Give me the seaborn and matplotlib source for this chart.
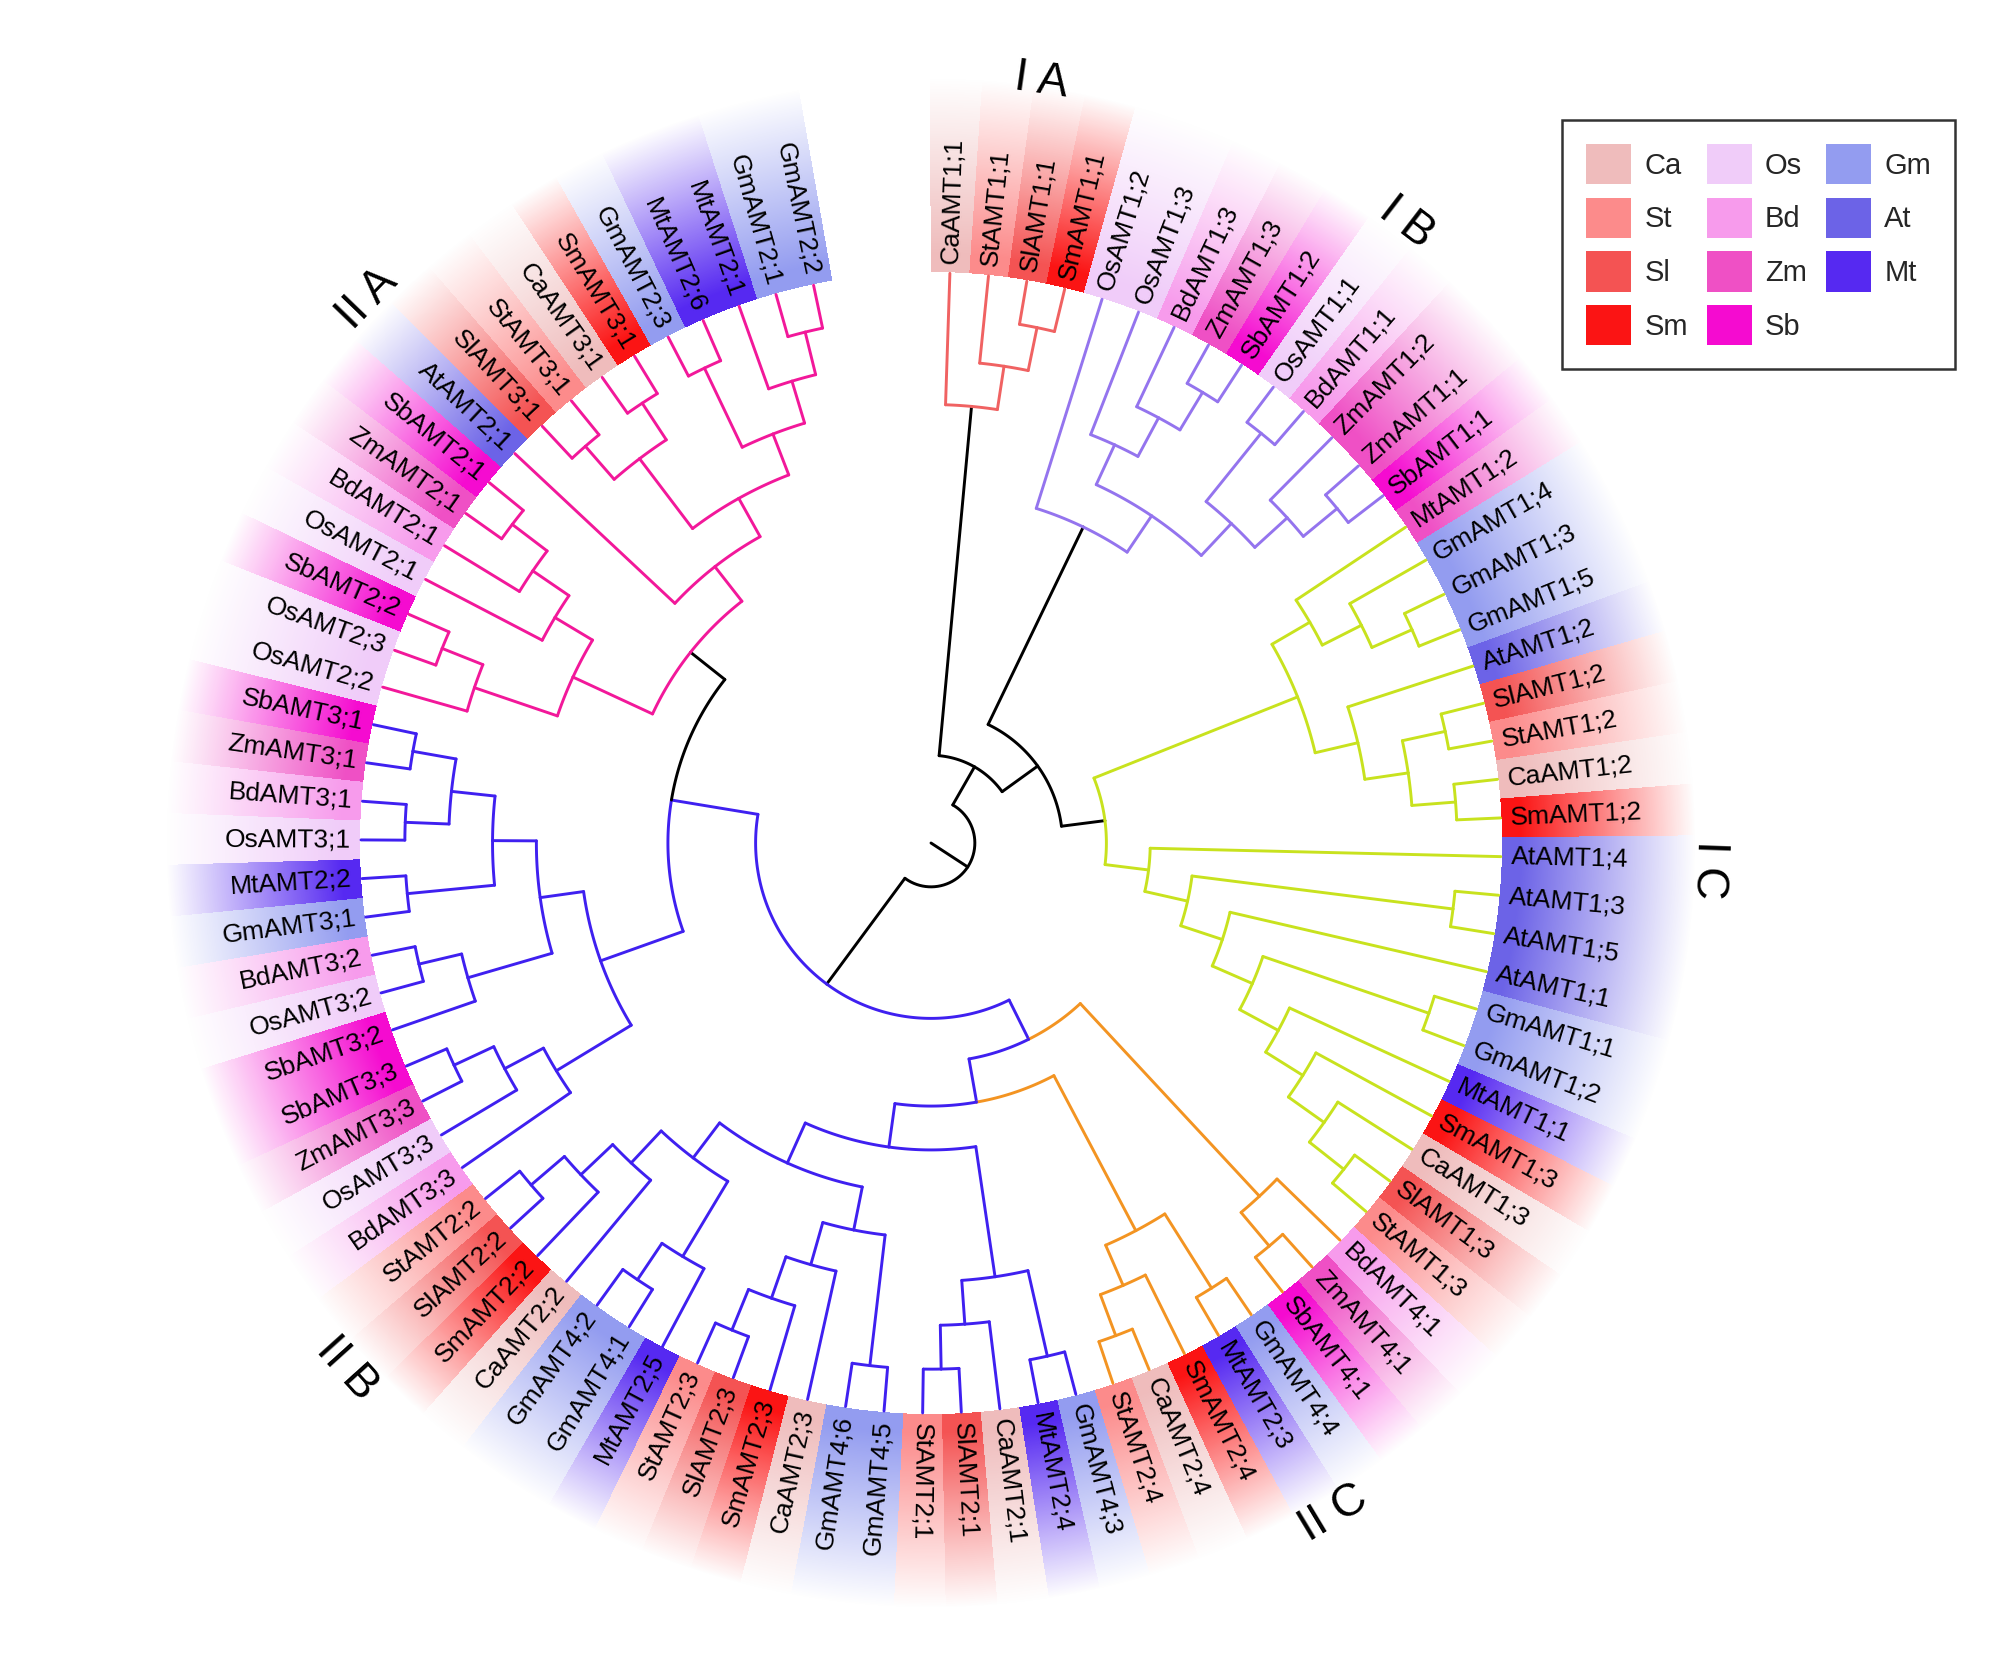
import numpy as np
import seaborn as sns
import matplotlib.pyplot as plt
from matplotlib.patches import Patch
from matplotlib.colors import to_rgb

# ------------------------------------------------------------------ data
species = ['Ca', 'St', 'Sl', 'Sm', 'Os', 'Bd', 'Zm', 'Sb', 'Gm', 'At', 'Mt']
species_colors = ['#EFBCBC', '#FC8B8B', '#F45353', '#FB1414', '#F0CCF9', '#F79BEC',
                  '#EF50C5', '#F50BD0', '#939CF0', '#6C63E7', '#5629F1']

# subtrees, leaves listed clockwise from the top (names keep their ';')
tree_IA = "(CaAMT1;1,(StAMT1;1,(SlAMT1;1,SmAMT1;1)))IA"
tree_IB = ("(OsAMT1;2,((OsAMT1;3,(BdAMT1;3,(ZmAMT1;3,SbAMT1;2))),"
           "((OsAMT1;1,BdAMT1;1),(ZmAMT1;2,(ZmAMT1;1,SbAMT1;1)))))IB")
tree_IC = ("(((MtAMT1;2,(GmAMT1;4,(GmAMT1;3,GmAMT1;5))),(AtAMT1;2,((SlAMT1;2,StAMT1;2),(CaAMT1;2,SmAMT1;2)))),"
           "(AtAMT1;4,((AtAMT1;3,AtAMT1;5),(AtAMT1;1,((GmAMT1;1,GmAMT1;2),"
           "(MtAMT1;1,(SmAMT1;3,(CaAMT1;3,(SlAMT1;3,StAMT1;3)))))))))IC")
tree_IIC2 = "(BdAMT4;1,(ZmAMT4;1,SbAMT4;1))IIC2"
tree_IIC1 = "((GmAMT4;4,MtAMT2;3),(SmAMT2;4,(CaAMT2;4,StAMT2;4)))IIC1"
tree_IIB2 = ("(((GmAMT4;3,MtAMT2;4),(CaAMT2;1,(SlAMT2;1,StAMT2;1))),"
             "(((GmAMT4;5,GmAMT4;6),(CaAMT2;3,(SmAMT2;3,(SlAMT2;3,StAMT2;3)))),"
             "((MtAMT2;5,(GmAMT4;1,GmAMT4;2)),(CaAMT2;2,(SmAMT2;2,(SlAMT2;2,StAMT2;2))))))")
tree_IIB1 = ("((BdAMT3;3,(OsAMT3;3,(ZmAMT3;3,SbAMT3;3))),((SbAMT3;2,(OsAMT3;2,BdAMT3;2)),"
             "((GmAMT3;1,MtAMT2;2),((OsAMT3;1,BdAMT3;1),(ZmAMT3;1,SbAMT3;1)))))")
tree_IIA = ("(((OsAMT2;2,(OsAMT2;3,SbAMT2;2)),(OsAMT2;1,(BdAMT2;1,(ZmAMT2;1,SbAMT2;1)))),"
            "(AtAMT2;1,(((SlAMT3;1,StAMT3;1),(CaAMT3;1,SmAMT3;1)),"
            "((GmAMT2;3,MtAMT2;6),(MtAMT2;1,(GmAMT2;1,GmAMT2;2))))))IIA")

group_I = "(" + tree_IA + ",(" + tree_IB + "," + tree_IC + "))"
group_II = "((" + tree_IIC2 + ",(" + tree_IIC1 + "," + tree_IIB2 + ")),(" + tree_IIB1 + "," + tree_IIA + "))II"
tree = "(" + group_I + "," + group_II + ")"

band_fix = {'MtAMT1;2': 'Zm'}          # band colour differs from the name in the figure
clade_names = ['I A', 'I B', 'I C', 'II C', 'II B', 'II A']

# ------------------------------------------------------------------ style
W, H = 2008, 1677
cx, cy = 931, 843            # tree centre (px)
R_LEAF = 570
STEP = R_LEAF / 13.0
TH0, DTH = 1.9, 3.89         # angle of first leaf, spacing (deg, clockwise from top)
LW = 2.1
clade_style = {'IA': (None, '#F06262'), 'IB': (None, '#9474EE'), 'IC': (None, '#C8E21E'),
               'II': (None, '#3F20F0'), 'IIA': ('black', '#F2189A'),
               'IIC1': ('#F39422', '#F39422'), 'IIC2': ('#F39422', '#F39422')}
label_pos = {'I A': (8.2, 770), 'I B': (37.5, 782), 'I C': (92, 778),
             'II C': (149, 782), 'II B': (228, 786), 'II A': (314, 784)}

sns.set_theme(style="white")
plt.rcParams['font.family'] = ['Liberation Sans', 'DejaVu Sans']


def parse(s):
    pos = 0

    def name():
        nonlocal pos
        st = pos
        while pos < len(s) and s[pos] not in ',()':
            pos += 1
        return s[st:pos]

    def node():
        nonlocal pos
        if s[pos] == '(':
            pos += 1
            kids = [node()]
            while s[pos] == ',':
                pos += 1
                kids.append(node())
            pos += 1
            return {'name': name(), 'kids': kids}
        return {'name': name(), 'kids': []}
    return node()


root = parse(tree)
leaves = []


def layout(n):
    if not n['kids']:
        n['idx'] = len(leaves)
        n['h'] = 0
        leaves.append(n['name'])
        return
    for k in n['kids']:
        layout(k)
    n['h'] = 1 + max(k['h'] for k in n['kids'])
    n['idx'] = (n['kids'][0]['idx'] + n['kids'][-1]['idx']) / 2


layout(root)


def theta(i):
    return TH0 + i * DTH


def xy(r, th):
    t = np.radians(th)
    return cx + r * np.sin(t), cy - r * np.cos(t)


fig = plt.figure(figsize=(W / 100, H / 100), dpi=100)
ax = fig.add_axes([0, 0, 1, 1])

# ---- coloured bands behind the labels (fade outwards)
cmap = dict(zip(species, species_colors))
band_rgb = np.array([to_rgb(cmap[band_fix.get(l, l[:2])]) for l in leaves])
r_in, r_solid, r_out = 571, 590, 765
yy, xx = np.mgrid[0:H, 0:W] + 0.5
rr = np.hypot(xx - cx, yy - cy)
tt = np.degrees(np.arctan2(xx - cx, -(yy - cy)))
tt = (tt + 5) % 360 - 5
k = np.rint((tt - TH0) / DTH).astype(int)
ok = (k >= 0) & (k < len(leaves)) & (rr >= r_in) & (rr <= r_out)
img = np.zeros((H, W, 4))
img[ok, :3] = band_rgb[k[ok]]
img[..., 3] = np.where(ok, np.clip((r_out - rr) / (r_out - r_solid), 0, 1), 0)
ax.imshow(img, extent=(0, W, H, 0), interpolation='bilinear', zorder=0)


# ---- branches
def arc(r, a, b, c):
    n = max(2, int(abs(b - a) * 2) + 2)
    t = np.linspace(a, b, n)
    x, y = xy(r, t)
    ax.plot(x, y, color=c, lw=LW, solid_capstyle='round', zorder=2)


def draw(n, r_par, inherited):
    sc, ic = clade_style.get(n['name'], (None, None)) if n['kids'] else (None, None)
    n['stem'] = sc or inherited
    inner = ic or inherited
    r = R_LEAF - STEP * n['h']
    th = theta(n['idx'])
    x0, y0 = xy(r_par, th)
    x1, y1 = xy(r, th)
    ax.plot([x0, x1], [y0, y1], color=n['stem'], lw=LW, solid_capstyle='round', zorder=2)
    if n['kids']:
        for kd in n['kids']:
            draw(kd, r, inner)
        arc(r, theta(n['kids'][0]['idx']), th, n['kids'][0]['stem'])
        arc(r, th, theta(n['kids'][-1]['idx']), n['kids'][-1]['stem'])


draw(root, 0, 'black')

# ---- leaf labels
for i, name in enumerate(leaves):
    th = theta(i)
    x, y = xy(580, th)
    if th > 181:
        ax.text(x, y, name, rotation=270 - th, ha='right', va='center',
                rotation_mode='anchor', fontsize=19, color='black', zorder=3)
    else:
        ax.text(x, y, name, rotation=90 - th, ha='left', va='center',
                rotation_mode='anchor', fontsize=19, color='black', zorder=3)

# ---- clade labels
for nm in clade_names:
    th, r = label_pos[nm]
    x, y = xy(r, th)
    rot = 180 - th if 100 < th < 260 else -th
    ax.text(x, y, nm, rotation=rot, ha='center', va='center',
            rotation_mode='anchor', fontsize=33, color='black')

ax.set_xlim(0, W)
ax.set_ylim(H, 0)
ax.set_aspect('equal')
ax.axis('off')

# ---- legend
handles = [Patch(facecolor=c, edgecolor='none', label=s) for s, c in zip(species, species_colors)]
leg = fig.legend(handles=handles, ncol=3, loc='upper left',
                 bbox_to_anchor=(1562 / W, 1 - 120 / H), borderaxespad=0,
                 frameon=True, fancybox=False,
                 edgecolor='black', fontsize=21, handlelength=1.55, handleheight=1.75,
                 labelspacing=0.46, columnspacing=0.65, handletextpad=0.45, borderpad=0.82)
leg.get_frame().set_linewidth(1.8)

fig.savefig('out.png', dpi=100)
